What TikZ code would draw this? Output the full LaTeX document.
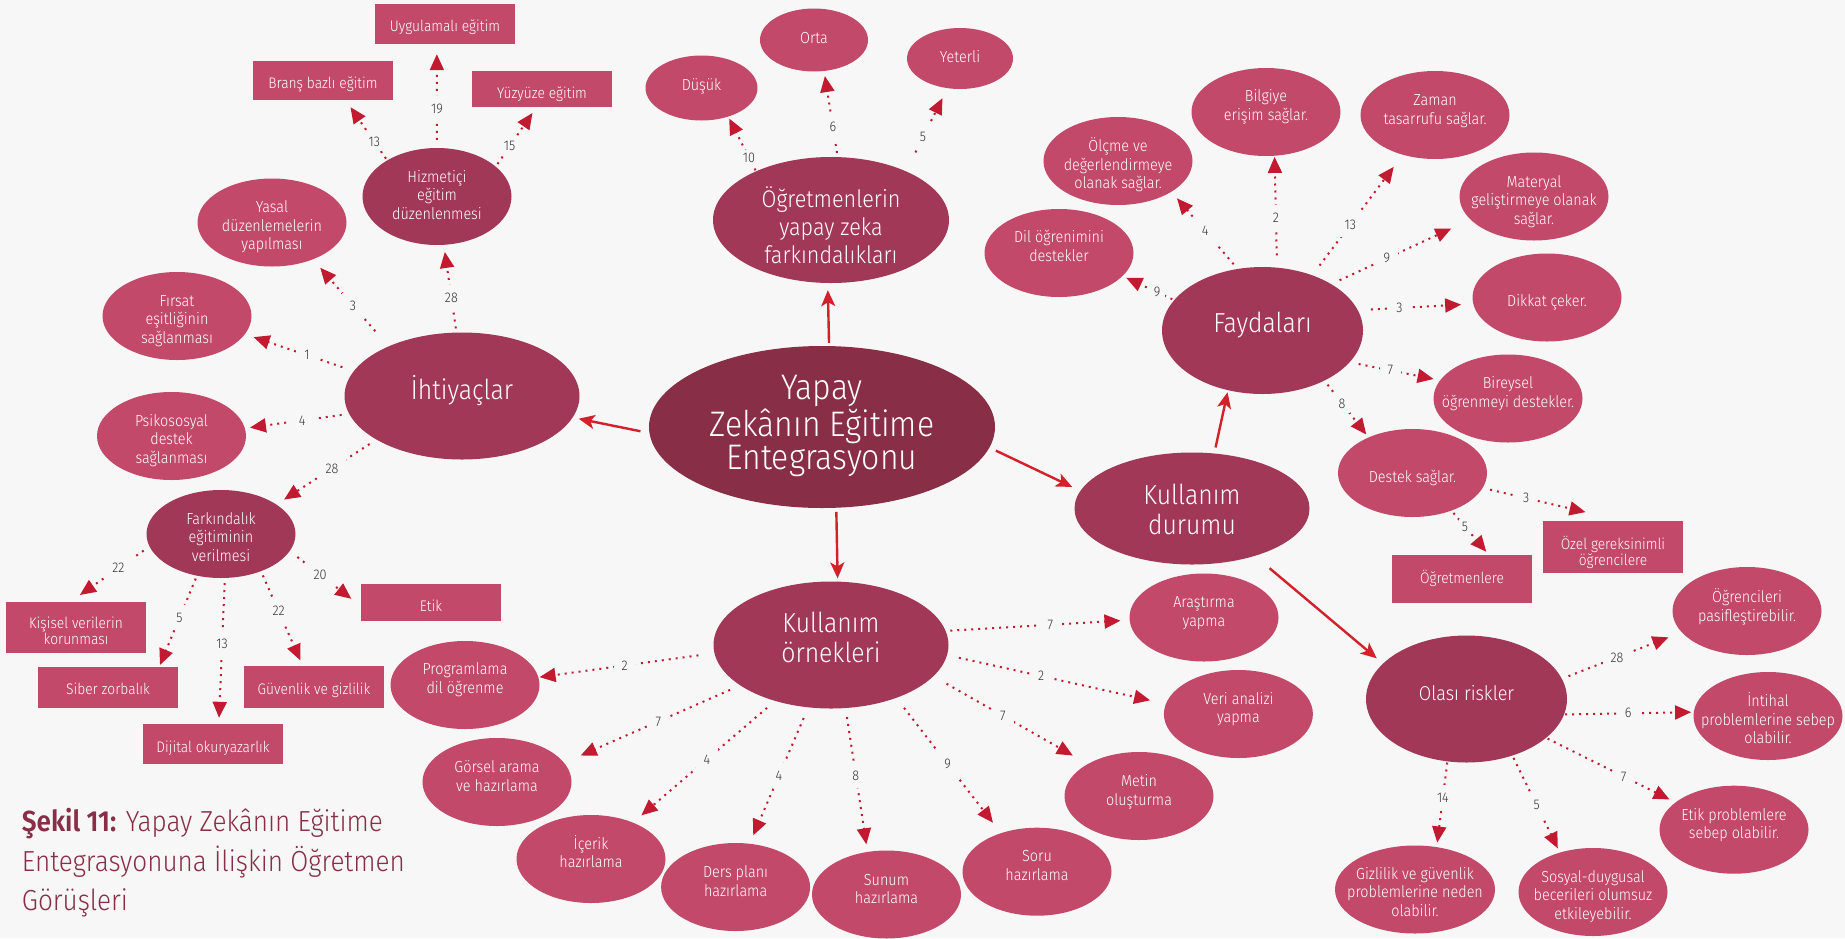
\documentclass[tikz,border=0pt]{standalone}
\usepackage{fontspec}
\usepackage{array}
\setmainfont{Fira Sans Light}[BoldFont={Fira Sans SemiBold},FakeStretch=0.9]
\usetikzlibrary{arrows.meta,shapes.geometric}
\definecolor{bgcol}{HTML}{F7F7F7}
\definecolor{darkcol}{HTML}{882E47}
\definecolor{midcol}{HTML}{A13857}
\definecolor{lightcol}{HTML}{C3496B}
\definecolor{tipcol}{HTML}{C21A30}
\definecolor{redcol}{HTML}{D4202B}
\newcommand{\etxt}[2][0pt]{\raisebox{\dimexpr #1-.25em-2.5pt\relax}[0pt][0pt]{\makebox[0pt]{\begin{tabular}{@{}c@{}}#2\end{tabular}}}}

\begin{document}
\begin{tikzpicture}[x=1pt,y=-1pt,text=white,
small/.style={ellipse,fill=lightcol,minimum width=149pt,minimum height=88pt,inner sep=0pt,font=\fontsize{16}{18.5}\selectfont},
tiny/.style={small,minimum width=#1},
sub/.style={small,fill=midcol,minimum height=#1},
big/.style={ellipse,fill=midcol,inner sep=0pt,minimum width=235pt,minimum height=127pt,font=\fontsize{27.5}{30}\selectfont},
box/.style={rectangle,fill=lightcol,minimum width=140pt,minimum height=#1,inner sep=0pt,font=\fontsize{15.3}{15.5}\selectfont},
dotline/.style 2 args={draw=tipcol,line width=2pt,dash pattern=on 2pt off 5pt,shorten <=#1pt,shorten >=#2pt,-{Triangle[length=16pt,width=14pt,fill=tipcol]}},
solidline/.style 2 args={draw=redcol,line width=2.4pt,shorten <=#1pt,shorten >=#2pt,-{Stealth[length=16pt,width=14pt,inset=4pt]}},
cnt/.style={fill=bgcol,text=black!80,inner sep=8pt,font=\fontsize{14}{14}\selectfont}]
\fill[bgcol] (0,0) rectangle (1845,938);
\useasboundingbox (0,0) rectangle (1845,938);

% centre
\node[big,fill=darkcol,minimum width=346pt,minimum height=162pt,font=\fontsize{35.5}{31}\selectfont] (yapay) at (822,427) {\etxt[5pt]{Yapay\\[-.5pt]Zekânın Eğitime\\[-.5pt]Entegrasyonu}};
\node[big,minimum width=236pt,minimum height=126pt,font=\fontsize{24}{28.3}\selectfont] (farkindalik) at (831,220) {\etxt[-7pt]{Öğretmenlerin\\yapay zeka\\farkındalıkları}};
\node[big] (ihtiyac) at (462,396) {\etxt[7pt]{İhtiyaçlar}};
\node[big,minimum width=201pt] (fayda) at (1262.5,330.5) {\etxt[7pt]{Faydaları}};
\node[big,minimum height=112pt] (durum) at (1192,508.5) {\etxt[-1.5pt]{Kullanım\\durumu}};
\node[big] (ornek) at (831,645) {\etxt[7pt]{Kullanım\\örnekleri}};
\node[big,minimum width=201pt,font=\fontsize{20}{28}\selectfont] (risk) at (1466.5,699) {\etxt[6pt]{Olası riskler}};

% awareness
\node[tiny=112pt,minimum height=65pt] (dusuk) at (701.5,88) {\etxt[3pt]{Düşük}};
\node[tiny=108pt,minimum height=63pt] (orta) at (814,40) {\etxt[2pt]{Orta}};
\node[tiny=106pt,minimum height=61pt] (yeterli) at (960,58.5) {\etxt[1.5pt]{Yeterli}};

% needs
\node[sub=97pt] (hizmetici) at (437,196.5) {\etxt[1.5pt]{Hizmetiçi\\eğitim\\düzenlenmesi}};
\node[small] (yasal) at (272,222.5) {\etxt[-3pt]{Yasal\\düzenlemelerin\\yapılması}};
\node[small] (firsat) at (177,316) {\etxt[-3pt]{Fırsat\\eşitliğinin\\sağlanması}};
\node[small] (psiko) at (171.5,436) {\etxt[-3pt]{Psikososyal\\destek\\sağlanması}};
\node[sub=88pt] (farkegitim) at (221,534) {\etxt[-3pt]{Farkındalık\\eğitiminin\\verilmesi}};
\node[box=40pt] (uygulamali) at (445,24) {\etxt[-1pt]{Uygulamalı eğitim}};
\node[box=39pt] (brans) at (323,80.5) {\etxt[-1.5pt]{Branş bazlı eğitim}};
\node[box=36pt] (yuzyuze) at (542,89) {\etxt[-3pt]{Yüzyüze eğitim}};
\node[box=51pt] (kisisel) at (76,627.5) {\etxt[-3pt]{Kişisel verilerin\\korunması}};
\node[box=41pt] (siber) at (108,687.5) {\etxt[-.5pt]{Siber zorbalık}};
\node[box=42pt] (guvenlik) at (314,687) {\etxt[-1pt]{Güvenlik ve gizlilik}};
\node[box=40pt] (dijital) at (213,744) {\etxt[-2pt]{Dijital okuryazarlık}};
\node[box=37pt] (etik) at (431,602.5) {\etxt[-2.5pt]{Etik}};

% benefits
\node[small] (dil) at (1059,253) {\etxt[7pt]{Dil öğrenimini\\destekler}};
\node[small] (olcme) at (1118,161) {\etxt[-3pt]{Ölçme ve\\değerlendirmeye\\olanak sağlar.}};
\node[small] (bilgi) at (1266,112) {\etxt[7pt]{Bilgiye\\erişim sağlar.}};
\node[small] (zaman) at (1435,115) {\etxt[6pt]{Zaman\\tasarrufu sağlar.}};
\node[small] (materyal) at (1534,196.5) {\etxt[-3.5pt]{Materyal\\geliştirmeye olanak\\sağlar.}};
\node[small] (dikkat) at (1547,297.5) {\etxt[-3.5pt]{Dikkat çeker.}};
\node[small] (bireysel) at (1508,398.5) {\etxt[6.5pt]{Bireysel\\öğrenmeyi destekler.}};
\node[small] (destek) at (1412.5,473) {\etxt[-4pt]{Destek sağlar.}};
\node[box=48pt] (ogretmen) at (1462,579) {\etxt[3pt]{Öğretmenlere}};
\node[box=52pt] (ozel) at (1613,547) {\etxt[-3.5pt]{Özel gereksinimli\\öğrencilere}};

% examples
\node[small] (program) at (465,685) {\etxt[6.7pt]{Programlama\\dil öğrenme}};
\node[small] (gorsel) at (497,782) {\etxt[6pt]{Görsel arama\\ve hazırlama}};
\node[small] (icerik) at (591,859) {\etxt[7pt]{İçerik\\hazırlama}};
\node[small] (ders) at (735.6,887) {\etxt[6pt]{Ders planı\\hazırlama}};
\node[small] (sunum) at (886.5,894.5) {\etxt[6pt]{Sunum\\hazırlama}};
\node[small] (soru) at (1037,871.7) {\etxt[6.7pt]{Soru\\hazırlama}};
\node[small] (metin) at (1139,796) {\etxt[6pt]{Metin\\oluşturma}};
\node[small] (veri) at (1238.4,714) {\etxt[6.5pt]{Veri analizi\\yapma}};
\node[small] (arastirma) at (1204,617.5) {\etxt[6.5pt]{Araştırma\\yapma}};

% risks
\node[small] (pasif) at (1747,611) {\etxt[5.5pt]{Öğrencileri\\pasifleştirebilir.}};
\node[small] (intihal) at (1768,716) {\etxt[-3pt]{İntihal\\problemlerine sebep\\olabilir.}};
\node[small] (etikprob) at (1734,829.7) {\etxt[6pt]{Etik problemlere\\sebep olabilir.}};
\node[small] (sosyal) at (1593,892) {\etxt[-3pt]{Sosyal-duygusal\\becerileri olumsuz\\etkileyebilir.}};
\node[small,minimum width=160pt] (gizlilik) at (1415,889.5) {\etxt[-2.5pt]{Gizlilik ve güvenlik\\problemlerine neden\\olabilir.}};

\node[anchor=north west,align=left,text=darkcol,inner sep=0pt,font=\fontsize{29}{39.5}\selectfont] (sekil) at (21.7,808) {\textbf{Şekil 11:} Yapay Zekânın Eğitime\\Entegrasyonuna İlişkin Öğretmen\\Görüşleri};

% main arrows
\draw[solidline={3}{7}] (yapay.85) -- (farkindalik.-93);
\draw[solidline={9}{6}] (yapay.182) -- (ihtiyac.-11);
\draw[solidline={7}{9}] (yapay.-7.5) -- (durum.171);
\draw[solidline={4}{3}] (yapay.-80) -- (ornek.84);
\draw[solidline={6}{2}] (durum.68) -- (fayda.-120);
\draw[solidline={19}{8}] (durum.-37) -- (risk.157);

\draw[dotline={1}{2}] (farkindalik.147) -- node[cnt,inner sep=3pt,pos=.25]{10} (dusuk.-47);
\draw[dotline={4}{5}] (farkindalik.84) -- node[cnt,pos=.35]{6} (orta.-72);
\draw[dotline={21}{11}] (farkindalik.33) -- node[cnt,pos=.41]{5} (yeterli.-113);

\draw[dotline={4}{7}] (ihtiyac.95) -- node[cnt,pos=.4]{28} (hizmetici.-82);
\draw[dotline={20}{11}] (ihtiyac.146) -- node[cnt,pos=.47]{3} (yasal.-42);
\draw[dotline={12}{9}] (ihtiyac.167) -- node[cnt,pos=.43]{1} (firsat.-15);
\draw[dotline={7.5}{5}] (ihtiyac.189) -- node[cnt,pos=.45]{4} (psiko.6);
\draw[dotline={8}{9}] (ihtiyac.207) -- node[cnt,pos=.445]{28} (farkegitim.28);
\draw[dotline={2}{8.5}] (hizmetici.144) -- node[cnt,inner sep=5pt,pos=.31]{13} (brans.-41);
\draw[dotline={8}{10}] (hizmetici.90) -- node[cnt,pos=.38]{19} (uygulamali.-112);
\draw[dotline={3}{7}] (hizmetici.27) -- node[cnt,inner sep=5pt,pos=.34]{15} (yuzyuze.-107);
\draw[dotline={7}{12}] (farkegitim.190) -- node[cnt,pos=.39]{22} (kisisel.103);
\draw[dotline={3}{2}] (farkegitim.240) -- node[cnt,pos=.46]{5} (siber.22);
\draw[dotline={5}{6}] (farkegitim.-85) -- node[cnt,pos=.45]{13} (dijital.74);
\draw[dotline={4.5}{6}] (farkegitim.-43) -- node[cnt,pos=.42]{22} (guvenlik.118);
\draw[dotline={9.5}{12}] (farkegitim.-14.5) -- node[cnt,pos=.425]{20} (etik.183);

\draw[dotline={2}{4}] (fayda.161) -- node[cnt,inner sep=5pt,pos=.33]{9} (dil.-20);
\draw[dotline={6}{8.5}] (fayda.112) -- node[cnt,pos=.49]{4} (olcme.-30);
\draw[dotline={12}{1}] (fayda.77) -- node[cnt,pos=.45]{2} (bilgi.-79);
\draw[dotline={12}{15}] (fayda.48) -- node[cnt,pos=.42]{13} (zaman.-129);
\draw[dotline={9}{21}] (fayda.34) -- node[cnt,pos=.4]{9} (materyal.200);
\draw[dotline={13}{12}] (fayda.12) -- node[cnt,pos=.36]{3} (dikkat.185);
\draw[dotline={9}{6.5}] (fayda.-20.5) -- node[cnt,pos=.45]{7} (bireysel.165);
\draw[dotline={5}{3.5}] (fayda.-39) -- node[cnt,inner sep=5pt,pos=.4]{8} (destek.141);
\draw[dotline={7.5}{38}] (destek.-12) -- node[cnt,pos=.31]{3} (ozel.70);
\draw[dotline={3}{4}] (destek.-44) -- node[cnt,inner sep=3pt,pos=.36]{5} (ogretmen.42);

\draw[dotline={16}{1}] (ornek.184.6) -- node[cnt,pos=.51]{2} (program.6.4);
\draw[dotline={11}{18}] (ornek.204) -- node[cnt,pos=.465]{7} (gorsel.16.8);
\draw[dotline={10.5}{11}] (ornek.225) -- node[cnt,pos=.48]{4} (icerik.41);
\draw[dotline={11.5}{9}] (ornek.250.5) -- node[cnt,pos=.5]{4} (ders.72);
\draw[dotline={9}{7.5}] (ornek.-77) -- node[cnt,pos=.47]{8} (sunum.114);
\draw[dotline={12.5}{13}] (ornek.-39) -- node[cnt,pos=.49]{9} (soru.133);
\draw[dotline={15}{17}] (ornek.-17.6) -- node[cnt,pos=.45]{7} (metin.148);
\draw[dotline={12}{16}] (ornek.-5.4) -- node[cnt,pos=.43]{2} (veri.172);
\draw[dotline={4.5}{9}] (ornek.7) -- node[cnt,pos=.57]{7} (arastirma.182);

\draw[dotline={7}{14}] (risk.12) -- node[cnt,pos=.46]{28} (pasif.198);
\draw[dotline={1}{2.5}] (risk.-9) -- node[cnt,pos=.495]{6} (intihal.177.5);
\draw[dotline={1.5}{6.5}] (risk.-26) -- node[cnt,pos=.6]{7} (etikprob.155);
\draw[dotline={2.5}{4.5}] (risk.-51) -- node[cnt,pos=.51]{5} (sosyal.130);
\draw[dotline={1}{4.5}] (risk.253) -- node[cnt,pos=.42]{14} (gizlilik.63);
\end{tikzpicture}
\end{document}
